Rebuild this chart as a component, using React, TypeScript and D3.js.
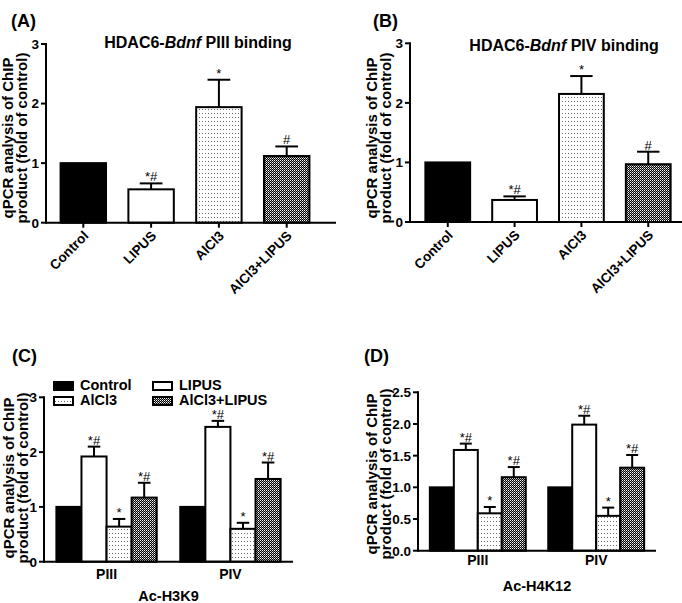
import React from 'react';
import * as d3 from 'd3';

// treatment groups (A, B) and promoters (C, D)
const treatments = ['Control', 'LIPUS', 'AlCl3', 'AlCl3+LIPUS'];
const promoters = ['PIII', 'PIV'];

// (A) HDAC6-Bdnf PIII binding
const meanA = [1.0, 0.56, 1.94, 1.12];
const semA = [0, 0.1, 0.46, 0.16];
const sigA = ['', '*#', '*', '#'];

// (B) HDAC6-Bdnf PIV binding
const meanB = [1.0, 0.37, 2.15, 0.97];
const semB = [0, 0.06, 0.3, 0.21];
const sigB = ['', '*#', '*', '#'];

// (C) Ac-H3K9, one array per treatment, values per promoter
const meanC = [[1.0, 1.0], [1.92, 2.46], [0.64, 0.6], [1.17, 1.51]];
const semC = [[0, 0], [0.18, 0.11], [0.14, 0.11], [0.27, 0.3]];
// (D) Ac-H4K12
const meanD = [[1.0, 1.0], [1.59, 1.99], [0.59, 0.55], [1.16, 1.31]];
const semD = [[0, 0], [0.1, 0.14], [0.1, 0.13], [0.16, 0.2]];
const sigCD = ['', '*#', '*', '*#'];

const ticksABC = [0, 1, 2, 3];
const ticksD = [0, 0.5, 1.0, 1.5, 2.0, 2.5];

const FONT = "Arial, 'Liberation Sans', sans-serif";
const fills = ['#000', '#fff', 'url(#dots)', 'url(#checker)'];

const YLabel = ({ x, y }: { x: number; y: number }) => (
  <g transform={`translate(${x},${y}) rotate(-90)`} fontWeight="bold" fontSize={15} textAnchor="middle">
    <text x={0} y={0}>qPCR analysis of ChIP</text>
    <text x={0} y={14}>product (fold of control)</text>
  </g>
);

const YAxis = ({ y, x, ticks, fmt }: any) => (
  <g>
    <line x1={x} x2={x} y1={y(ticks[ticks.length - 1]) - 1} y2={y(0) + 1} stroke="#000" strokeWidth={2} />
    {ticks.map((t: number) => (
      <g key={t}>
        <line x1={x - 5} x2={x} y1={y(t)} y2={y(t)} stroke="#000" strokeWidth={2} />
        <text x={x - 7} y={y(t)} dy="0.36em" textAnchor="end" fontWeight="bold" fontSize={13.5}>{fmt(t)}</text>
      </g>
    ))}
  </g>
);

const ErrBar = ({ cx, w, yTop, yErr, sig }: any) => (
  <g>
    {yErr < yTop - 0.5 && (
      <g stroke="#000" strokeWidth={2}>
        <line x1={cx} x2={cx} y1={yTop} y2={yErr} />
        <line x1={cx - w / 4} x2={cx + w / 4} y1={yErr} y2={yErr} />
      </g>
    )}
    {sig && (
      <text x={cx} y={yErr - 2} textAnchor="middle" fontSize={13}>{sig}</text>
    )}
  </g>
);

const SimplePanel = ({ ox, label, title, mean, sem, sig, axisX, axisEnd, y0, y3, barRange }: any) => {
  const y = d3.scaleLinear().domain([0, 3]).range([y0, y3]);
  const x = d3.scaleBand().domain(treatments).range(barRange).paddingInner(0.33).paddingOuter(0.23);
  const bw = x.bandwidth();
  return (
    <g>
      <text x={ox + 11} y={27} fontWeight="bold" fontSize={18}>{label}</text>
      <text x={title.cx} y={title.y} textAnchor="middle" fontWeight="bold" fontSize={16}>
        HDAC6-<tspan fontStyle="italic">Bdnf</tspan> {title.p} binding
      </text>
      <YLabel x={axisX - 33} y={138} />
      {treatments.map((t, i) => (
        <g key={t}>
          <rect x={x(t)} y={y(mean[i])} width={bw} height={y(0) - y(mean[i])} fill={fills[i]} stroke="#000" strokeWidth={2} />
          <ErrBar cx={x(t)! + bw / 2} w={bw} yTop={y(mean[i])} yErr={y(mean[i] + sem[i])} sig={sig[i]} />
        </g>
      ))}
      <YAxis y={y} x={axisX} ticks={ticksABC} fmt={(d: number) => d3.format('d')(d)} />
      <line x1={axisX} x2={axisEnd} y1={y(0)} y2={y(0)} stroke="#000" strokeWidth={2} />
      {treatments.map(t => {
        const cx = x(t)! + bw / 2;
        return (
          <g key={t}>
            <line x1={cx} x2={cx} y1={y(0)} y2={y(0) + 5} stroke="#000" strokeWidth={2} />
            <text transform={`translate(${cx + 6},${y(0) + 14}) rotate(-45)`} textAnchor="end" fontWeight="bold" fontSize={13.5}>{t}</text>
          </g>
        );
      })}
    </g>
  );
};

const GroupPanel = ({ ox, label, mean, sem, axisX, axisEnd, y0, yMax, yMaxPx, ticks, fmt, groupRange, tickY, xTitle, xTitleY, yl, ylc }: any) => {
  const y = d3.scaleLinear().domain([0, yMax]).range([y0, yMaxPx]);
  const gx = d3.scaleBand().domain(promoters).range(groupRange).paddingInner(0.19).paddingOuter(0.1);
  const sx = d3.scaleBand().domain(treatments).range([0, gx.bandwidth()]);
  const bw = sx.bandwidth();
  return (
    <g>
      <text x={ox + 12} y={362} fontWeight="bold" fontSize={18}>{label}</text>
      <YLabel x={axisX - yl} y={ylc} />
      {promoters.map((p, j) => (
        <g key={p}>
          {treatments.map((t, i) => (
            <rect key={t} x={gx(p)! + sx(t)!} y={y(mean[i][j])} width={bw} height={y(0) - y(mean[i][j])} fill={fills[i]} stroke="#000" strokeWidth={2} />
          ))}
          {treatments.map((t, i) => (
            <ErrBar key={t} cx={gx(p)! + sx(t)! + bw / 2} w={bw} yTop={y(mean[i][j])} yErr={y(mean[i][j] + sem[i][j])} sig={sigCD[i]} />
          ))}
          <text x={gx(p)! + gx.bandwidth() / 2} y={tickY} textAnchor="middle" fontWeight="bold" fontSize={14}>{p}</text>
        </g>
      ))}
      <YAxis y={y} x={axisX} ticks={ticks} fmt={fmt} />
      <line x1={axisX} x2={axisEnd} y1={y(0)} y2={y(0)} stroke="#000" strokeWidth={2} />
      <text x={(axisX + axisEnd) / 2} y={xTitleY} textAnchor="middle" fontWeight="bold" fontSize={14.5}>{xTitle}</text>
    </g>
  );
};

const Legend = () => {
  const cols = [54, 153];
  const rows = [382, 397];
  const order = [0, 2, 1, 3]; // column-major: Control, AlCl3 | LIPUS, AlCl3+LIPUS
  return (
    <g>
      {order.map((ti, k) => {
        const cx = cols[Math.floor(k / 2)];
        const ry = rows[k % 2];
        return (
          <g key={ti}>
            <rect x={cx} y={ry} width={19} height={8} fill={fills[ti]} stroke="#000" strokeWidth={2} />
            <text x={cx + 26} y={ry + 8} fontWeight="bold" fontSize={14.5}>{treatments[ti]}</text>
          </g>
        );
      })}
    </g>
  );
};

export default function App() {
  return (
    <svg width={682} height={603} style={{ position: 'absolute', left: 0, top: 0, background: '#fff' }} fontFamily={FONT}>
      <defs>
        <pattern id="dots" width={3} height={4} patternUnits="userSpaceOnUse">
          <rect width={3} height={4} fill="#fff" />
          <rect x={1} y={1} width={1} height={1} fill="#666" />
        </pattern>
        <pattern id="checker" width={2} height={2} patternUnits="userSpaceOnUse">
          <rect width={2} height={2} fill="#000" />
          <rect x={0} y={0} width={1} height={1} fill="#fff" />
          <rect x={1} y={1} width={1} height={1} fill="#999" />
        </pattern>
      </defs>
      <SimplePanel ox={0} label="(A)" title={{ cx: 198, y: 48, p: 'PIII' }} mean={meanA} sem={semA} sig={sigA}
        axisX={46} axisEnd={336} y0={222.7} y3={44} barRange={[45, 325]} />
      <SimplePanel ox={362} label="(B)" title={{ cx: 564, y: 51, p: 'PIV' }} mean={meanB} sem={semB} sig={sigB}
        axisX={410} axisEnd={682} y0={222} y3={43.3} barRange={[410, 686]} />
      <GroupPanel ox={0} label="(C)" mean={meanC} sem={semC} axisX={44} axisEnd={293} y0={561.7} yMax={3} yMaxPx={397.3}
        ticks={ticksABC} fmt={(d: number) => d3.format('d')(d)} groupRange={[44, 293]} tickY={579} xTitle="Ac-H3K9" xTitleY={601}
        yl={30.5} ylc={478} />
      <GroupPanel ox={352} label="(D)" mean={meanD} sem={semD} axisX={418} axisEnd={656} y0={550.7} yMax={2.5} yMaxPx={392.3}
        ticks={ticksD} fmt={(d: number) => d3.format('.1f')(d)} groupRange={[418, 656]} tickY={565} xTitle="Ac-H4K12" xTitleY={591}
        yl={41} ylc={474} />
      <Legend />
    </svg>
  );
}
